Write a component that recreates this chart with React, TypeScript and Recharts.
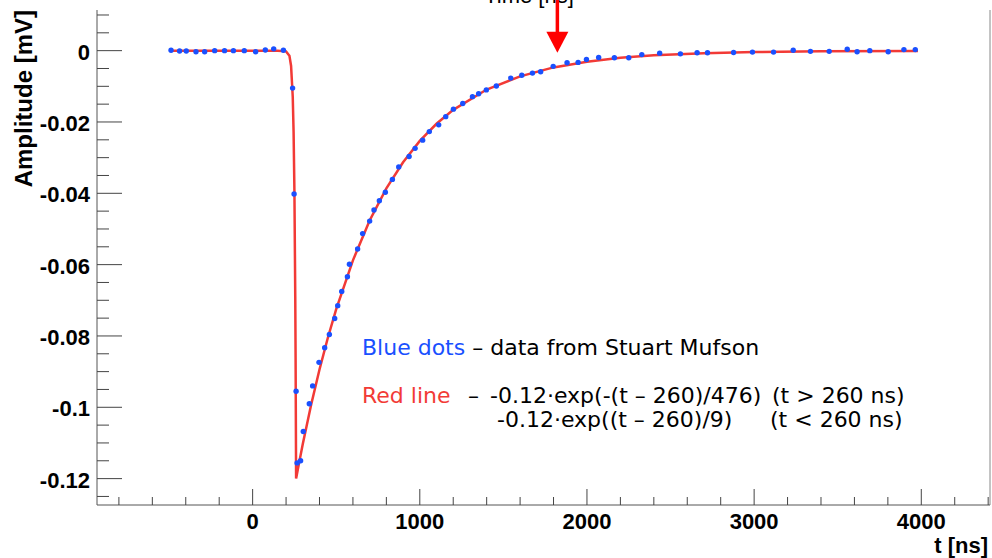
import {
  ComposedChart,
  Line,
  Scatter,
  XAxis,
  YAxis,
  ReferenceLine,
  Label,
} from "recharts";

// measured points (blue dots), t in ns, amplitude in mV
const dotT = [
  -488, -437, -397, -339, -287, -227, -168, -115, -50, 18, 76, 126, 184,
  239, 248, 260, 266, 287, 303, 339, 359, 397, 431, 459, 491, 509, 533, 567,
  579, 628, 658, 700, 726, 758, 794, 836, 874, 936, 972, 1017, 1057, 1113,
  1155, 1201, 1257, 1315, 1352, 1398, 1458, 1544, 1610, 1674, 1723, 1798,
  1881, 1947, 1997, 2070, 2164, 2250, 2328, 2435, 2559, 2659, 2721, 2877,
  2990, 3116, 3234, 3337, 3449, 3557, 3616, 3692, 3802, 3896, 3964,
];
const dotA = [
  0.0001, -0.0001, -0.0001, -0.0003, -0.0003, 0, 0, 0, 0, -0.0003, 0.0002,
  0.0005, 0.0001, -0.0105, -0.0402, -0.0955, -0.1156, -0.115, -0.1068,
  -0.099, -0.094, -0.0874, -0.0833, -0.0796, -0.0751, -0.0715, -0.0675,
  -0.0634, -0.0599, -0.0556, -0.0513, -0.0478, -0.0447, -0.0421, -0.0397,
  -0.0361, -0.0326, -0.0297, -0.0274, -0.0251, -0.0227, -0.0208, -0.0185,
  -0.0164, -0.0148, -0.0129, -0.0121, -0.011, -0.0099, -0.0077, -0.0069,
  -0.0063, -0.0059, -0.0044, -0.0034, -0.0033, -0.0025, -0.0019, -0.002,
  -0.002, -0.0011, -0.0007, -0.0009, -0.0006, -0.0006, -0.0005, -0.0004,
  -0.0004, 0.0001, -0.0002, -0.0002, 0.0004, -0.0003, 0, -0.0003, 0.0003,
  0.0003,
];

// fitted curve (red line)
const fitT = [
  -500, 0, 150, 200, 220, 230, 240, 245, 250, 255, 257, 260, 280, 300, 350,
  400, 450, 500, 600, 700, 800, 900, 1000, 1100, 1200, 1400, 1600, 1800,
  2000, 2200, 2400, 2700, 3000, 3400, 3980,
];
const fitA = [
  0, 0, 0, -0.0002, -0.0014, -0.0043, -0.013, -0.0227, -0.0395, -0.0689,
  -0.086, -0.12, -0.1151, -0.1103, -0.0993, -0.0894, -0.0805, -0.0725,
  -0.0588, -0.0476, -0.0386, -0.0313, -0.0253, -0.0205, -0.0166, -0.0109,
  -0.0072, -0.0047, -0.0031, -0.002, -0.0013, -0.0007, -0.0004, -0.0002,
  -0.0001,
];

const xTicks = [
  -800, -600, -400, -200, 0, 200, 400, 600, 800, 1000, 1200, 1400, 1600,
  1800, 2000, 2200, 2400, 2600, 2800, 3000, 3200, 3400, 3600, 3800, 4000,
  4200, 4400,
];
const yTicks = [
  0.01, 0.005, 0, -0.005, -0.01, -0.015, -0.02, -0.025, -0.03, -0.035, -0.04,
  -0.045, -0.05, -0.055, -0.06, -0.065, -0.07, -0.075, -0.08, -0.085, -0.09,
  -0.095, -0.1, -0.105, -0.11, -0.115, -0.12, -0.125,
];

const dots = dotT.map((t, i) => ({ t, a: dotA[i] }));
const fit = fitT.map((t, i) => ({ t, a: fitA[i] }));

const X_DOMAIN: [number, number] = [-931, 4411];
const Y_DOMAIN: [number, number] = [-0.1274, 0.0114];
const ARROW_T = 1823;

const AXIS = "#555";
const TICK = "#444";
const FONT = "'Liberation Sans', Arial, Helvetica, sans-serif";
const TEXT_FONT = "'DejaVu Sans', Verdana, sans-serif";
const BLUE = "#1a50ff";
const RED = "#f23a36";

const YTick = (props: any) => {
  const { x, y, payload } = props;
  const v = payload.value;
  const major = Math.round(v * 1000) % 20 === 0;
  return (
    <g>
      <line x1={x} x2={x + (major ? 25 : 12)} y1={y} y2={y} stroke={TICK} />
      {major && (
        <text
          x={x - 7}
          y={y + 9}
          textAnchor="end"
          fontFamily={FONT}
          fontWeight="bold"
          fontSize={22}
          fill="#000"
        >
          {String(v)}
        </text>
      )}
    </g>
  );
};

const XTick = (props: any) => {
  const { x, y, payload } = props;
  const v = payload.value;
  const major = v % 1000 === 0;
  return (
    <g>
      <line x1={x} x2={x} y1={y} y2={y - (major ? 16 : 8)} stroke={TICK} />
      {major && (
        <text
          x={x}
          y={y + 24}
          textAnchor="middle"
          fontFamily={FONT}
          fontWeight="bold"
          fontSize={22}
          fill="#000"
        >
          {String(v)}
        </text>
      )}
    </g>
  );
};

const Arrow = (props: any) => {
  const { x1, y1, x2, y2 } = props;
  const x = x1;
  const top = Math.min(y1, y2);
  const tip = Math.max(y1, y2);
  return (
    <g>
      <line x1={x} x2={x} y1={top} y2={tip - 18} stroke="#ff0000" strokeWidth={3.5} />
      <polygon
        points={`${x - 11},${tip - 21} ${x + 11},${tip - 21} ${x},${tip}`}
        fill="#ff0000"
      />
    </g>
  );
};

const App = () => {
  return (
    <div style={{ position: "absolute", left: 0, top: 0 }}>
      <ComposedChart
        width={992}
        height={558}
        margin={{ top: 10, right: 2, bottom: 0, left: 0 }}
        style={{ background: "#fff" }}
      >
        <XAxis
          type="number"
          dataKey="t"
          domain={X_DOMAIN}
          ticks={xTicks}
          interval={0}
          allowDataOverflow
          tickLine={false}
          tickSize={0}
          tickMargin={0}
          height={53}
          axisLine={{ stroke: AXIS }}
          tick={<XTick />}
        >
          <Label
            content={(p: any) => {
              const vb = p.viewBox;
              return (
                <text
                  x={vb.x + vb.width - 2}
                  y={vb.y + 48}
                  textAnchor="end"
                  fontFamily={FONT}
                  fontWeight="bold"
                  fontSize={22}
                  fill="#000"
                >
                  t [ns]
                </text>
              );
            }}
          />
        </XAxis>
        <YAxis
          type="number"
          dataKey="a"
          domain={Y_DOMAIN}
          ticks={yTicks}
          interval={0}
          allowDataOverflow
          tickLine={false}
          tickSize={0}
          tickMargin={0}
          width={97}
          axisLine={{ stroke: AXIS }}
          tick={<YTick />}
        >
          <Label
            content={(p: any) => {
              const vb = p.viewBox;
              const lx = vb.x + 32;
              const ly = vb.y;
              return (
                <text
                  x={lx}
                  y={ly}
                  transform={`rotate(-90, ${lx}, ${ly})`}
                  textAnchor="end"
                  fontFamily={FONT}
                  fontWeight="bold"
                  fontSize={24}
                  fill="#000"
                >
                  Amplitude [mV]
                </text>
              );
            }}
          />
        </YAxis>
        <ReferenceLine x={X_DOMAIN[1]} stroke="#888" />
        <Line
          data={fit}
          dataKey="a"
          type="linear"
          stroke={RED}
          strokeWidth={2.5}
          dot={false}
          activeDot={false}
          isAnimationActive={false}
        />
        <Scatter
          data={dots}
          dataKey="a"
          fill={BLUE}
          isAnimationActive={false}
          shape={(p: any) => <circle cx={p.cx} cy={p.cy} r={2.7} fill={BLUE} />}
        />
        <ReferenceLine
          segment={[
            { x: ARROW_T, y: 0.0143 },
            { x: ARROW_T, y: -0.0006 },
          ]}
          ifOverflow="visible"
          shape={<Arrow />}
        />
        <text
          x={529}
          y={3}
          textAnchor="middle"
          fontFamily={FONT}
          fontSize={22}
          fill="#000"
        >
          Time [ns]
        </text>
        <text x={362} y={355} fontFamily={TEXT_FONT} fontSize={22} fill="#000">
          <tspan fill={BLUE}>Blue dots</tspan>
          <tspan> – data from Stuart Mufson</tspan>
        </text>
        <text x={362} y={403} fontFamily={TEXT_FONT} fontSize={22} fill={RED}>
          Red line
        </text>
        <text x={468} y={403} fontFamily={TEXT_FONT} fontSize={22} fill="#000">
          –
        </text>
        <text x={490} y={403} fontFamily={TEXT_FONT} fontSize={22} fill="#000">
          -0.12·exp(-(t – 260)/476)
        </text>
        <text x={772} y={403} fontFamily={TEXT_FONT} fontSize={22} fill="#000">
          (t &gt; 260 ns)
        </text>
        <text x={497} y={427} fontFamily={TEXT_FONT} fontSize={22} fill="#000">
          -0.12·exp((t – 260)/9)
        </text>
        <text x={770} y={427} fontFamily={TEXT_FONT} fontSize={22} fill="#000">
          (t &lt; 260 ns)
        </text>
      </ComposedChart>
    </div>
  );
};

export default App;
